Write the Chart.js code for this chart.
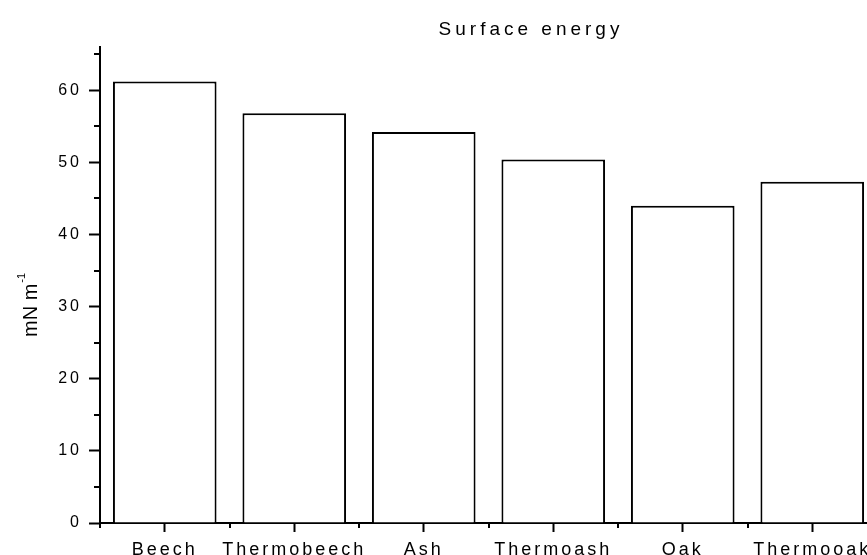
<!DOCTYPE html>
<html>
<head>
<meta charset="utf-8">
<title>Surface energy</title>
<script src="https://cdn.jsdelivr.net/npm/chart.js@4/dist/chart.umd.min.js"></script>
<style>
  html, body { margin: 0; padding: 0; background: #fff; overflow: hidden; }
  .wrap { width: 877px; height: 555px; position: relative; }
</style>
</head>
<body>
<div class="wrap"><canvas id="energyChart"></canvas></div>
<script>
// Datos del gráfico
const woods = ["Beech", "Thermobeech", "Ash", "Thermoash", "Oak", "Thermooak"]
const surfaceEnergy = [61.2, 56.8, 54.2, 50.4, 44.0, 47.3]
const yTicks = [0, 10, 20, 30, 40, 50, 60]
const yMinorTicks = [5, 15, 25, 35, 45, 55, 65]

const fontFamily = "'Liberation Sans', Arial, sans-serif"

// Minor ticks, title and axis label (drawn after the chart)
const extrasPlugin = {
  id: "extras",
  beforeDraw(chart) {
    chart.ctx.letterSpacing = "3px"
  },
  afterDraw(chart) {
    const ctx = chart.ctx
    const area = chart.chartArea
    const x = chart.scales.x
    const y = chart.scales.y

    ctx.save()
    ctx.strokeStyle = "#000"
    ctx.lineWidth = 2
    ctx.beginPath()
    yMinorTicks.forEach((v) => {
      const py = Math.round(y.getPixelForValue(v))
      ctx.moveTo(area.left - 6, py)
      ctx.lineTo(area.left, py)
    })
    for (let i = 0; i <= woods.length; i++) {
      const px = Math.round(x.getPixelForValue(i - 0.5))
      ctx.moveTo(px, area.bottom)
      ctx.lineTo(px, area.bottom + 5)
    }
    ctx.stroke()

    // Title
    ctx.fillStyle = "#000"
    ctx.letterSpacing = "4px"
    ctx.font = "19px " + fontFamily
    ctx.textBaseline = "alphabetic"
    ctx.textAlign = "left"
    const title = "Surface energy"
    const tw = ctx.measureText(title).width - 4
    ctx.fillText(title, 529 - tw / 2, 35)

    // Y axis label: mN m^-1
    ctx.letterSpacing = "0px"
    ctx.translate(37, 337)
    ctx.rotate(-Math.PI / 2)
    ctx.font = "20px " + fontFamily
    ctx.fillText("mN m", 0, 0)
    const lw = ctx.measureText("mN m").width
    ctx.font = "11px " + fontFamily
    ctx.fillText("-1", lw + 1, -12)
    ctx.restore()
  },
}

document.addEventListener("DOMContentLoaded", () => {
  new Chart(document.getElementById("energyChart"), {
    type: "bar",
    data: {
      labels: woods,
      datasets: [
        {
          data: surfaceEnergy,
          backgroundColor: "#ffffff",
          borderColor: "#000000",
          borderWidth: 2,
          categoryPercentage: 1,
          barPercentage: 0.8,
        },
      ],
    },
    options: {
      responsive: true,
      maintainAspectRatio: false,
      animation: false,
      layout: { padding: { top: 47, left: 0, right: 0, bottom: 0 } },
      scales: {
        x: {
          offset: true,
          grid: {
            offset: false,
            drawOnChartArea: false,
            drawTicks: true,
            tickLength: 9,
            tickWidth: 2,
            tickColor: "#000",
          },
          border: { display: true, color: "#000", width: 2 },
          ticks: {
            color: "#000",
            font: { family: fontFamily, size: 18 },
            padding: 7,
            maxRotation: 0,
            autoSkip: false,
          },
          afterFit(scale) {
            scale.height = 32
          },
        },
        y: {
          min: 0,
          max: 66,
          afterBuildTicks(scale) {
            scale.ticks = yTicks.map((v) => ({ value: v }))
          },
          grid: {
            drawOnChartArea: false,
            drawTicks: true,
            tickLength: 11,
            tickWidth: 2,
            tickColor: "#000",
          },
          border: { display: true, color: "#000", width: 2 },
          ticks: {
            color: "#000",
            font: { family: fontFamily, size: 16 },
            padding: 7,
          },
          afterFit(scale) {
            scale.width = 100
          },
        },
      },
      plugins: {
        legend: { display: false },
        tooltip: { enabled: false },
        title: { display: false },
      },
    },
    plugins: [extrasPlugin],
  })
})
</script>
</body>
</html>
